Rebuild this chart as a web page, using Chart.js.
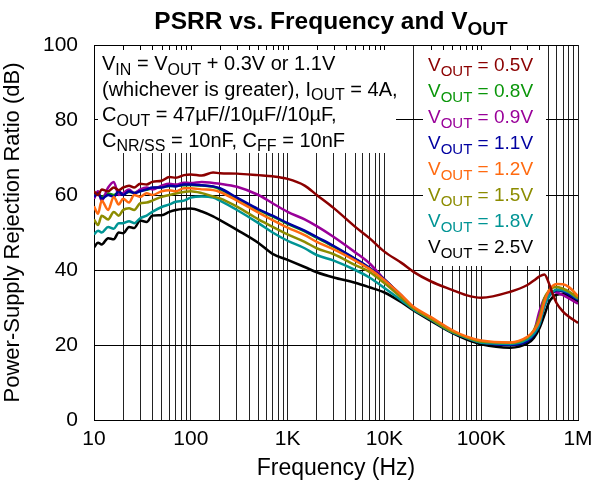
<!DOCTYPE html>
<html>
<head>
<meta charset="utf-8">
<script src="https://cdn.jsdelivr.net/npm/chart.js@4.4.1/dist/chart.umd.min.js"></script>
<style>
  body { margin: 0; background: #fff; }
  #psrr { display: block; }
</style>
</head>
<body>
<canvas id="psrr" width="592" height="486"></canvas>
<script>
// frequency points (Hz) shared by every curve
const freqHz = [10, 11, 12, 14, 16, 18, 20, 23, 26, 30, 35, 40, 50, 60, 70, 85, 100, 130, 170, 200,
    300, 500, 700, 1000, 1500, 2000, 3000, 5000, 7000, 10000, 15000, 20000, 30000, 50000, 70000, 100000, 200000,
    300000, 350000, 400000, 450000, 500000, 550000, 600000, 700000, 800000, 1000000];

// PSRR (dB) per output voltage
const psrr05 = [61, 60, 61.5, 61, 62, 61.3, 62, 62.5, 62, 63, 62.8, 63.5, 63.8, 64.8, 64.6, 65.3, 65.5, 65.2, 66, 65.8,
    65.7, 65.3, 65, 64.3, 62.5, 60, 56.5, 51.5, 48.5, 44.9, 41.9, 39.5, 37, 34.7, 33.3, 32.6, 34.2,
    36, 37.2, 38.3, 38.8, 36.5, 33.5, 31.2, 28.9, 27.6, 25.9];
const psrr08 = [59.8, 60.2, 59.5, 60.4, 60, 60.6, 60.3, 60.8, 60.6, 61.2, 61.4, 61.8, 62.1, 62.4, 62.4, 62.6, 62.7, 62.5, 62.2, 61.6,
    59.1, 56, 54.3, 52.3, 50.3, 48.6, 46.2, 42.9, 40.5, 37.4, 33, 29.8, 27, 23.5, 22, 20.7, 20,
    21, 22.8, 25.8, 30.8, 33.2, 34.1, 34.6, 34.3, 33.5, 32];
const psrr09 = [59, 61, 58.5, 62, 63.5, 60, 60.5, 61.5, 60.5, 61.5, 62, 61.5, 62.5, 63, 62.8, 63.3, 63.2, 63.5, 63.2, 63,
    62.2, 60, 57.8, 55.5, 53.5, 51.7, 48.8, 44.7, 41.8, 37.5, 33.2, 30, 27.2, 23.6, 22, 20.8, 20.1,
    21.3, 23.5, 29, 32.5, 33.8, 34.2, 34, 33.3, 32.5, 31];
const psrr11 = [59.5, 60.5, 59, 60, 59.5, 61, 60, 61, 60.5, 61, 61.5, 62, 62, 62.5, 62.3, 62.8, 62.8, 62.6, 62.3, 61.8,
    59.3, 56.2, 54.5, 52.5, 50.5, 48.8, 46.4, 43, 40.6, 37.5, 33.1, 29.8, 27, 23.5, 22, 20.7, 20,
    21, 22.7, 25.5, 30.5, 33, 34, 34.6, 34.3, 33.5, 32];
const psrr12 = [57, 55, 58.5, 56, 59.5, 57.5, 59, 58, 60, 59.5, 60.5, 60, 61, 61.3, 61, 61.8, 61.8, 61.5, 61.3, 60.8,
    58.5, 55.3, 53.3, 51.3, 49.3, 47.5, 45.5, 42.5, 40.3, 37.3, 33.3, 30.2, 27.5, 24, 22.3, 21.2, 20.7,
    22.2, 23.8, 26.5, 31.5, 34.5, 35.8, 36.3, 36.2, 35.5, 33];
const psrr15 = [53.5, 52, 54.5, 53.5, 55.5, 54.5, 56, 56.5, 56, 57.8, 58, 58.5, 59.5, 60, 60.4, 60.8, 61, 60.5, 59.6, 59.1,
    56.9, 53.5, 51.5, 49.5, 47.5, 45.8, 44.2, 41.3, 39.5, 36.5, 32.6, 29.8, 27, 23.6, 22.1, 20.9, 20.6,
    22, 24, 27.5, 32.5, 34.5, 35.3, 35.5, 35, 34.3, 32.5];
const psrr18 = [49.5, 50.5, 50, 51.5, 51, 52.5, 52.5, 53, 52.5, 53.8, 54.5, 55.5, 56.8, 57.5, 58.2, 58.5, 59.3, 59.6, 59.3, 58.5,
    56, 52.5, 50, 47.8, 45.8, 44, 42.5, 40, 38, 35.2, 31.9, 29.5, 26.8, 23.4, 21.9, 20.6, 20.3,
    21.5, 23, 25.5, 30.5, 33, 34.2, 34.8, 34.6, 34, 32.3];
const psrr25 = [46, 47.3, 46.8, 48.5, 48.2, 50, 49.8, 51.5, 51.2, 53.2, 52.8, 54.5, 54.6, 55.5, 56, 56.3, 56.4, 55.6, 54.3, 53.3,
    50.7, 47.2, 44.3, 42.7, 40.8, 39.4, 38, 36.6, 35.4, 34, 31.4, 29.2, 26.5, 23.2, 21.5, 20.2, 19.3,
    20.4, 21.9, 24.5, 28, 31.3, 32.8, 33.4, 33.6, 33, 31.5];

const voutLabels = ['0.5V', '0.8V', '0.9V', '1.1V', '1.2V', '1.5V', '1.8V', '2.5V'];
const voutColors = ['#8b0000', '#0a960a', '#990099', '#0000a0', '#ff6a10', '#8c8c00', '#009494', '#000000'];
const drawOrder = [0, 7, 5, 4, 1, 2, 3, 6];

// x grid lines: 1..9 per decade, labels only on decades
const xDecades = [10, 100, 1000, 10000, 100000, 1000000];
const xDecadeLabels = ['10', '100', '1K', '10K', '100K', '1M'];
const yTicks = [0, 20, 40, 60, 80, 100];

const xGridValues = [];
xDecades.forEach((d, i) => {
    if (i === xDecades.length - 1) { xGridValues.push(d); return; }
    for (let m = 1; m < 10; m++) xGridValues.push(d * m);
});

const FONT = '"Liberation Sans", Arial, sans-serif';

const noteLines = [
    [['V'], ['IN', 1], [' = V'], ['OUT', 1], [' + 0.3V or 1.1V']],
    [['(whichever is greater), I'], ['OUT', 1], [' = 4A,']],
    [['C'], ['OUT', 1], [' = 47\u00b5F//10\u00b5F//10\u00b5F,']],
    [['C'], ['NR/SS', 1], [' = 10nF, C'], ['FF', 1], [' = 10nF']]
];

function richWidth(ctx, parts, size, weight) {
    let w = 0;
    parts.forEach(p => {
        const s = p[1] ? Math.round(size * 0.78) : size;
        ctx.font = weight + ' ' + s + 'px ' + FONT;
        w += ctx.measureText(p[0]).width;
    });
    return w;
}

function drawRich(ctx, parts, x, y, size, weight, color) {
    ctx.fillStyle = color;
    ctx.textAlign = 'left';
    ctx.textBaseline = 'alphabetic';
    parts.forEach(p => {
        const s = p[1] ? Math.round(size * 0.78) : size;
        ctx.font = weight + ' ' + s + 'px ' + FONT;
        ctx.fillText(p[0], x, p[1] ? y + size * 0.24 : y);
        x += ctx.measureText(p[0]).width;
    });
}

const boxes = [
    { x1: 98, y1: 46, x2: 396, y2: 153 },
    { x1: 423, y1: 46, x2: 546, y2: 266 }
];

const textPlugin = {
    id: 'textPlugin',
    beforeDatasetsDraw(chart) {
        const ctx = chart.ctx;
        const xs = chart.scales.x;
        const top = chart.chartArea.top;
        ctx.save();
        ctx.fillStyle = '#fff';
        boxes.forEach(b => ctx.fillRect(b.x1, b.y1, b.x2 - b.x1, b.y2 - b.y1));
        ctx.strokeStyle = '#000';
        ctx.lineWidth = 1;
        xGridValues.forEach(v => {
            const px = Math.round(xs.getPixelForValue(v)) + 0.5;
            boxes.forEach(b => {
                if (px > b.x1 && px < b.x2) {
                    ctx.beginPath();
                    ctx.moveTo(px, top);
                    ctx.lineTo(px, top + 5);
                    ctx.stroke();
                }
            });
        });
        ctx.restore();
    },
    afterDraw(chart) {
        const ctx = chart.ctx;
        ctx.save();
        // title
        const title = [['PSRR vs. Frequency and V'], ['OUT', 1]];
        const tw = richWidth(ctx, title, 24.5, 'bold');
        drawRich(ctx, title, 331 - tw / 2, 29, 24.5, 'bold', '#000');
        // conditions note
        noteLines.forEach((line, i) => drawRich(ctx, line, 102, 70 + i * 25.5, 20, 'normal', '#000'));
        // legend
        voutLabels.forEach((lab, i) => {
            drawRich(ctx, [['V'], ['OUT', 1], [' = ' + lab]], 428, 71 + i * 26, 19, 'normal', voutColors[i]);
        });
        ctx.restore();
    }
};

const seriesValues = [psrr05, psrr08, psrr09, psrr11, psrr12, psrr15, psrr18, psrr25];

const datasets = seriesValues.map((vals, i) => ({
    label: 'VOUT = ' + voutLabels[i],
    data: freqHz.map((f, j) => ({ x: f, y: vals[j] })),
    borderColor: voutColors[i],
    borderWidth: 2.5,
    pointRadius: 0,
    cubicInterpolationMode: 'monotone',
    order: drawOrder[i]
}));

new Chart(document.getElementById('psrr').getContext('2d'), {
    type: 'line',
    data: { datasets: datasets },
    options: {
        responsive: false,
        animation: false,
        layout: { padding: { top: 45, right: 0, left: 0, bottom: 0 } },
        plugins: {
            legend: { display: false },
            tooltip: { enabled: false }
        },
        scales: {
            x: {
                type: 'logarithmic',
                min: 10,
                max: 1000000,
                afterBuildTicks: scale => {
                    scale.ticks = xGridValues.map(v => ({ value: v }));
                },
                afterFit: scale => {
                    scale.height = 66;
                    scale.paddingRight = 14;
                    scale.paddingLeft = 0;
                },
                ticks: {
                    autoSkip: false,
                    maxRotation: 0,
                    padding: 7,
                    color: '#000',
                    font: { family: FONT, size: 21 },
                    callback: value => {
                        const k = xDecades.indexOf(value);
                        return k >= 0 ? xDecadeLabels[k] : '';
                    }
                },
                grid: { color: '#222', lineWidth: 1, drawTicks: false },
                border: { color: '#000', width: 1 },
                title: {
                    display: true,
                    text: 'Frequency (Hz)',
                    color: '#000',
                    font: { family: FONT, size: 23 },
                    padding: { top: 0, bottom: 4 }
                }
            },
            y: {
                min: 0,
                max: 100,
                afterBuildTicks: scale => {
                    scale.ticks = yTicks.map(v => ({ value: v }));
                },
                afterFit: scale => { scale.width = 94; },
                ticks: {
                    padding: 16,
                    color: '#000',
                    font: { family: FONT, size: 21 }
                },
                grid: { color: '#000', lineWidth: 1, drawTicks: false },
                border: { color: '#000', width: 1 },
                title: {
                    display: true,
                    text: 'Power-Supply Rejection Ratio (dB)',
                    color: '#000',
                    font: { family: FONT, size: 22 },
                    padding: { top: 0, bottom: 4 }
                }
            }
        }
    },
    plugins: [textPlugin]
});
</script>
</body>
</html>
